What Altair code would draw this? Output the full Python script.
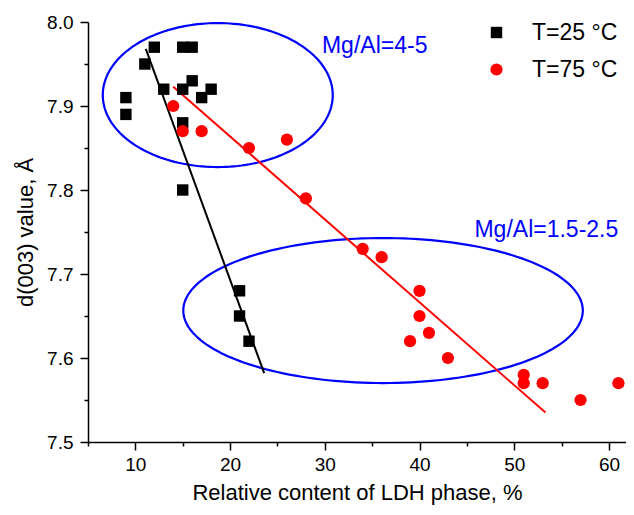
import altair as alt
import numpy as np
import pandas as pd

# --- data ---
t25_x = [9, 9, 11, 12, 13, 15, 16, 16, 15, 17, 18, 15, 15, 21, 21, 22]
t25_y = [7.91, 7.89, 7.95, 7.97, 7.92, 7.97, 7.97, 7.93, 7.92, 7.91, 7.92, 7.88, 7.80, 7.68, 7.65, 7.62]

t75_x = [14, 15, 17, 22, 26, 28, 34, 36, 40, 40, 41, 39, 43, 51, 51, 53, 57, 61]
t75_y = [7.90, 7.87, 7.87, 7.85, 7.86, 7.79, 7.73, 7.72, 7.68, 7.65, 7.63, 7.62, 7.60, 7.58, 7.57, 7.57, 7.55, 7.57]

series_names = ["T=25 °C", "T=75 °C"]

# linear fit lines (end points)
fit25_x = [11.1, 23.6]
fit25_y = [7.968, 7.582]
fit75_x = [14.0, 53.3]
fit75_y = [7.923, 7.535]

# ellipses: center x, center y, radius x, radius y
ell_cx = [18.7, 36.15]
ell_cy = [7.913, 7.6565]
ell_rx = [12.14, 21.09]
ell_ry = [0.0857, 0.0863]

ann_text = ["Mg/Al=4-5", "Mg/Al=1.5-2.5"]
ann_x = [29.7, 45.8]
ann_y = [7.972, 7.752]

# --- tables ---
pts = pd.DataFrame({
    "x": t25_x + t75_x,
    "y": t25_y + t75_y,
    "series": [series_names[0]] * len(t25_x) + [series_names[1]] * len(t75_x),
})

fits = pd.DataFrame({
    "x": fit25_x + fit75_x,
    "y": fit25_y + fit75_y,
    "series": [series_names[0]] * 2 + [series_names[1]] * 2,
})

rows = []
ang = np.linspace(0, 2 * np.pi, 181)
for i in range(len(ell_cx)):
    for k, a in enumerate(ang):
        rows.append({"x": ell_cx[i] + ell_rx[i] * np.cos(a),
                     "y": ell_cy[i] + ell_ry[i] * np.sin(a),
                     "e": i, "o": k})
ell = pd.DataFrame(rows)

ann = pd.DataFrame({"x": ann_x, "y": ann_y, "t": ann_text})

FONT = "Liberation Sans"

xscale = alt.Scale(domain=[5, 61.8], nice=False, zero=False)
yscale = alt.Scale(domain=[7.5, 8.0], nice=False, zero=False)

xaxis = alt.Axis(
    values=[5, 10, 15, 20, 25, 30, 35, 40, 45, 50, 55, 60],
    labelExpr="datum.value % 10 === 0 ? datum.label : ''",
    tickSize={"condition": {"test": "datum.value % 10 === 0", "value": 8}, "value": 4},
    title="Relative content of LDH phase, %",
    labelPadding=5, titlePadding=8,
)
yaxis = alt.Axis(
    values=[7.5, 7.55, 7.6, 7.65, 7.7, 7.75, 7.8, 7.85, 7.9, 7.95, 8.0],
    format=".1f",
    labelExpr="abs(datum.value*10 - round(datum.value*10)) < 0.01 ? datum.label : ''",
    tickSize={"condition": {"test": "abs(datum.value*10 - round(datum.value*10)) < 0.01", "value": 8}, "value": 4},
    title="d(003) value, Å",
    labelPadding=7, titlePadding=9,
)

color_scale = alt.Scale(domain=series_names, range=["#000000", "#ff0000"])
shape_scale = alt.Scale(domain=series_names, range=["square", "circle"])
size_scale = alt.Scale(domain=series_names, range=[130, 150])

legend = alt.Legend(
    title=None, orient="none", legendX=397, legendY=-1,
    labelFont=FONT, labelFontSize=23, labelColor="#000000",
    symbolSize=120, rowPadding=13, labelOffset=24,
    symbolStrokeWidth=0,
)

ellipses = alt.Chart(ell).mark_line(color="#0000ff", strokeWidth=2.2).encode(
    x=alt.X("x:Q", scale=xscale, axis=xaxis),
    y=alt.Y("y:Q", scale=yscale, axis=yaxis),
    detail="e:N",
    order="o:Q",
)

lines = alt.Chart(fits).mark_line(strokeWidth=2).encode(
    x="x:Q", y="y:Q",
    color=alt.Color("series:N", scale=color_scale, legend=legend),
    detail="series:N",
)

points = alt.Chart(pts).mark_point(filled=True, opacity=1).encode(
    x="x:Q", y="y:Q",
    color=alt.Color("series:N", scale=color_scale, legend=legend),
    shape=alt.Shape("series:N", scale=shape_scale, legend=legend),
    size=alt.Size("series:N", scale=size_scale, legend=None),
)

texts = alt.Chart(ann).mark_text(
    align="left", baseline="middle", color="#0000ff", font=FONT, fontSize=23
).encode(x="x:Q", y="y:Q", text="t:N")

chart = alt.layer(ellipses, lines, points, texts).properties(
    width=538, height=420,
    autosize=alt.AutoSizeParams(type="none"),
    padding={"left": 80, "top": 14, "right": 0, "bottom": 70},
).configure_view(stroke=None).configure_axis(
    grid=False, domainColor="#000000", domainWidth=1.5,
    tickColor="#000000", tickWidth=1.5,
    labelFont=FONT, labelFontSize=19, labelColor="#000000",
    titleFont=FONT, titleFontSize=22, titleFontWeight="normal", titleColor="#000000",
)

chart.save("out.html", embed_options={"renderer": "svg", "actions": False})
